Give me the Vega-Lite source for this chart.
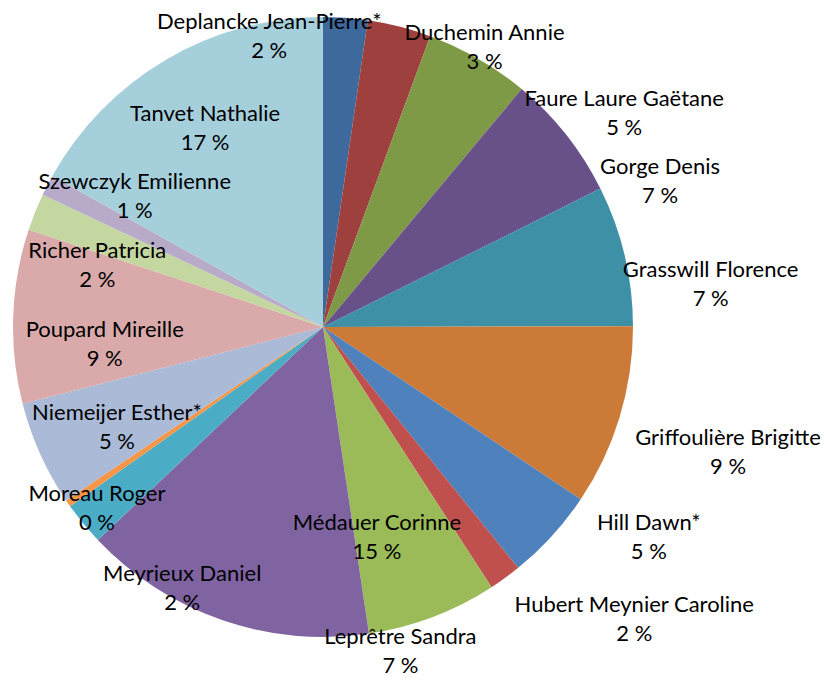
{
  "$schema": "https://vega.github.io/schema/vega-lite/v6.json",
  "width": 646,
  "height": 654,
  "autosize": {"type": "none"},
  "padding": {"left": 0, "top": 0, "right": 178, "bottom": 29},
  "background": "white",
  "view": {"stroke": null},
  "data": {
    "values": [
      {"name": "Deplancke Jean-Pierre*", "value": 2.31},
      {"name": "Duchemin Annie", "value": 3.31},
      {"name": "Faure Laure Gaëtane", "value": 5.45},
      {"name": "Gorge Denis", "value": 6.56},
      {"name": "Grasswill Florence", "value": 7.33},
      {"name": "Griffoulière Brigitte", "value": 9.42},
      {"name": "Hill Dawn*", "value": 4.78},
      {"name": "Hubert Meynier Caroline", "value": 1.69},
      {"name": "Leprêtre Sandra", "value": 6.78},
      {"name": "Médauer Corinne", "value": 15.31},
      {"name": "Meyrieux Daniel", "value": 2.25},
      {"name": "Moreau Roger", "value": 0.36},
      {"name": "Niemeijer  Esther*", "value": 5.47},
      {"name": "Poupard Mireille", "value": 9.06},
      {"name": "Richer Patricia", "value": 1.94},
      {"name": "Szewczyk Emilienne", "value": 1.08},
      {"name": "Tanvet Nathalie", "value": 16.9}
    ]
  },
  "transform": [
    {"joinaggregate": [{"op": "sum", "field": "value", "as": "total"}]},
    {"window": [{"op": "sum", "field": "value", "as": "cum"}], "frame": [null, 0]},
    {"calculate": "datum.cum - datum.value", "as": "start"},
    {"calculate": "datum.cum - datum.value / 2", "as": "mid"},
    {"calculate": "[datum.name, round(datum.value / datum.total * 100) + ' %']", "as": "label"}
  ],
  "layer": [
    {
      "mark": {"type": "arc", "outerRadius": 310},
      "encoding": {
        "theta": {"field": "start", "type": "quantitative", "stack": null, "scale": {"domain": [0, 100], "nice": false, "zero": false}},
        "theta2": {"field": "cum"},
        "color": {
          "field": "name",
          "type": "nominal",
          "legend": null,
          "scale": {
            "domain": ["Deplancke Jean-Pierre*", "Duchemin Annie", "Faure Laure Gaëtane", "Gorge Denis", "Grasswill Florence", "Griffoulière Brigitte", "Hill Dawn*", "Hubert Meynier Caroline", "Leprêtre Sandra", "Médauer Corinne", "Meyrieux Daniel", "Moreau Roger", "Niemeijer  Esther*", "Poupard Mireille", "Richer Patricia", "Szewczyk Emilienne", "Tanvet Nathalie"],
            "range": ["#3d699c", "#9e413e", "#7e9a47", "#685088", "#3d90a6", "#cc7a38", "#4f81bd", "#c0504d", "#9bbb59", "#8064a2", "#4bacc6", "#f79646", "#aabad7", "#d9aaa9", "#c4d7a1", "#b8abca", "#a6cfdc"]
          }
        }
      }
    },
    {
      "mark": {"type": "text", "font": "Lato", "fontSize": 22, "lineHeight": 29, "align": "center", "baseline": "middle", "dy": -14.5, "color": "#000000"},
      "encoding": {
        "theta": {
          "field": "mid",
          "type": "quantitative",
          "stack": null,
          "scale": {
            "type": "linear", "nice": false, "zero": false,
            "domain": [1.155, 3.965, 8.345, 14.35, 21.295, 29.67, 36.77, 40.005, 44.24, 55.285, 64.065, 65.37, 68.285, 75.55, 81.05, 82.56, 91.55],
            "range": [-0.1833, 0.5236, 0.9547, 1.1641, 1.4608, 1.871, 2.145, 2.3248, 2.9077, 2.8903, 3.6355, 4.0352, 4.2604, 4.6303, 4.9794, 5.318, 5.7474]
          }
        },
        "radius": {
          "field": "mid",
          "type": "quantitative",
          "scale": {
            "type": "linear", "nice": false, "zero": false,
            "domain": [1.155, 3.965, 8.345, 14.35, 21.295, 29.67, 36.77, 40.005, 44.24, 55.285, 64.065, 65.37, 68.285, 75.55, 81.05, 82.56, 91.55],
            "range": [295, 323, 369, 367, 390, 424, 388, 427, 334, 217, 297, 290, 229, 219, 234, 229, 231]
          }
        },
        "text": {"field": "label"}
      }
    }
  ],
  "resolve": {"scale": {"theta": "independent", "radius": "independent"}}
}
